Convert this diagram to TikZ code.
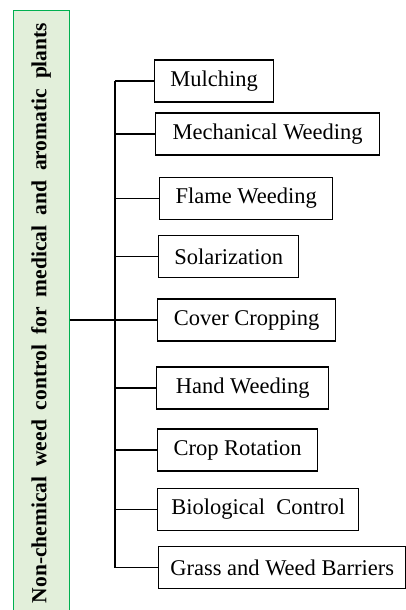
\documentclass[tikz,border=0pt]{standalone}
\usepackage{fontspec}
\setmainfont{Liberation Serif}
\definecolor{leafgreen}{HTML}{00B050}
\definecolor{palegreen}{HTML}{E2EFDA}
\tikzset{
  method/.style={draw, line width=1.3pt, anchor=west, minimum height=42pt, inner sep=0pt, font=\fontsize{22.5}{27}\selectfont},
  branch/.style={line width=1.2pt}
}
\begin{document}
\begin{tikzpicture}[x=1pt,y=-1pt]
\useasboundingbox (0,0) rectangle (406,610);

\node [draw=leafgreen, fill=palegreen, line width=1pt, rotate=90, minimum width=604pt, minimum height=56pt, inner sep=0pt, font=\fontsize{21.5}{26}\selectfont\bfseries] (root) at (41,313) {\spaceskip=10pt Non-chemical weed control for medical and aromatic plants};

\node [method, minimum width=119pt] (mulch) at (154,81) {Mulching};
\node [method, minimum width=224pt] (mech) at (155,134) {Mechanical Weeding};
\node [method, minimum width=173pt] (flame) at (159,198.5) {Flame Weeding};
\node [method, minimum width=140pt] (solar) at (158,256.5) {Solarization};
\node [method, minimum width=178pt] (cover) at (157,320) {Cover Cropping};
\node [method, minimum width=172pt] (hand) at (156,388) {Hand Weeding};
\node [method, minimum width=160pt] (rotation) at (157,450) {Crop Rotation};
\node [method, minimum width=201pt] (bio) at (157,509.5) {Biological\ \ Control};
\node [method, minimum width=247pt] (grass) at (158,567.5) {Grass and Weed Barriers};

% trunk and branches
\coordinate (trunk) at (115,0);
\draw [branch] (trunk |- mulch.west) -- (trunk |- grass.west);
\draw [branch] (trunk |- mulch.west) -- (mulch.west);
\draw [branch] (trunk |- mech.west) -- (mech.west);
\draw [branch] (trunk |- flame.west) -- (flame.west);
\draw [branch] (trunk |- solar.west) -- (solar.west);
\draw [branch] (root.south |- cover.west) -- (cover.west);
\draw [branch] (trunk |- hand.west) -- (hand.west);
\draw [branch] (trunk |- rotation.west) -- (rotation.west);
\draw [branch] (trunk |- bio.west) -- (bio.west);
\draw [branch] (trunk |- grass.west) -- (grass.west);
\end{tikzpicture}
\end{document}
